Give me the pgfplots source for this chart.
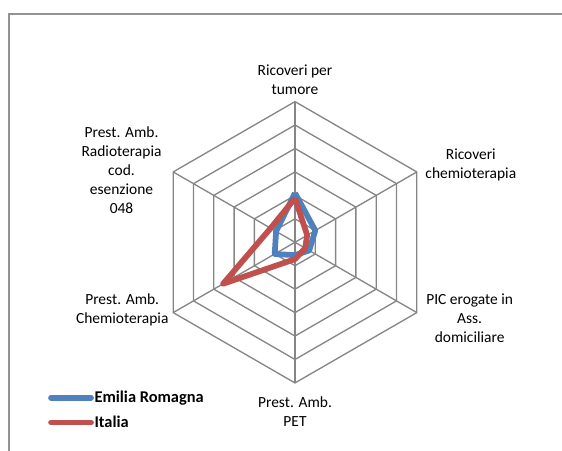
\documentclass[border=0pt]{standalone}
\usepackage{pgfplots}
\pgfplotsset{compat=1.18}
\usepackage{fontspec}
\setmainfont{Carlito}
\usepgfplotslibrary{polar}
\definecolor{erblue}{HTML}{4F81BD}
\definecolor{itred}{HTML}{C0504D}
\definecolor{gridgray}{HTML}{868686}
\begin{document}
\begin{tikzpicture}
\useasboundingbox (-221.25pt,-156.5pt) rectangle (200.25pt,181.7pt);
\draw[gridgray!90, line width=1.1pt] (-214.5pt,-160pt) -- (-214.5pt,171.2pt) -- (205pt,171.2pt);
\begin{axis}[
  at={(0pt,0pt)}, anchor=center,
  scale only axis, width=211pt, height=211pt,
  xmin=-6, xmax=6, ymin=-6, ymax=6,
  hide axis, clip=false,
  legend style={at={(axis cs:-10.54,-6.3)}, anchor=north west, draw=none, fill=none,
    font=\fontsize{12.3}{14}\selectfont\bfseries, inner sep=0pt, row sep=7.5pt,
    nodes={inner sep=0.5pt}},
  legend cell align=left,
  legend image code/.code={\draw[#1, line cap=round] (0pt,0pt) -- (30pt,0pt);},
  every axis plot/.append style={line join=round},
]
% hexagonal grid
\addplot[gridgray, line width=1pt, data cs=polar, forget plot] coordinates {(90,1) (30,1) (-30,1) (-90,1) (210,1) (150,1) (90,1)};
\addplot[gridgray, line width=1pt, data cs=polar, forget plot] coordinates {(90,2) (30,2) (-30,2) (-90,2) (210,2) (150,2) (90,2)};
\addplot[gridgray, line width=1pt, data cs=polar, forget plot] coordinates {(90,3) (30,3) (-30,3) (-90,3) (210,3) (150,3) (90,3)};
\addplot[gridgray, line width=1pt, data cs=polar, forget plot] coordinates {(90,4) (30,4) (-30,4) (-90,4) (210,4) (150,4) (90,4)};
\addplot[gridgray, line width=1pt, data cs=polar, forget plot] coordinates {(90,5) (30,5) (-30,5) (-90,5) (210,5) (150,5) (90,5)};
\addplot[gridgray, line width=1pt, data cs=polar, forget plot] coordinates {(90,6) (30,6) (-30,6) (-90,6) (210,6) (150,6) (90,6)};
% spokes
\addplot[gridgray, line width=1pt, data cs=polar, forget plot] coordinates {(90,0) (90,6)};
\addplot[gridgray, line width=1pt, data cs=polar, forget plot] coordinates {(30,0) (30,6)};
\addplot[gridgray, line width=1pt, data cs=polar, forget plot] coordinates {(-30,0) (-30,6)};
\addplot[gridgray, line width=1pt, data cs=polar, forget plot] coordinates {(-90,0) (-90,6)};
\addplot[gridgray, line width=1pt, data cs=polar, forget plot] coordinates {(210,0) (210,6)};
\addplot[gridgray, line width=1pt, data cs=polar, forget plot] coordinates {(150,0) (150,6)};
% data
\addplot[erblue, line width=4.3pt, data cs=polar] coordinates {(90,2.1) (30,1.0) (-30,0.7) (-90,0.55) (210,1.0) (150,0.93) (90,2.1)};
\addlegendentry{Emilia Romagna}
\addplot[itred, line width=4.3pt, data cs=polar] coordinates {(90,1.88) (30,0.6) (-30,0.5) (-90,0.72) (210,3.54) (150,1.2) (90,1.88)};
\addlegendentry{Italia}
% category labels
\begin{scope}[every node/.style={font=\fontsize{11.6}{14.3}\selectfont, align=center, inner sep=0pt}]
\node at (axis cs:0,6.92) {Ricoveri per\\tumore};
\node at (axis cs:7.5,3.3) {Ricoveri\\chemioterapia};
\node at (axis cs:7.45,-3.24) {PIC erogate in\\Ass.\\domiciliare};
\node at (axis cs:0,-7.21) {Prest. Amb.\\PET};
\node at (axis cs:-7.37,-2.87) {Prest. Amb.\\Chemioterapia};
\node at (axis cs:-7.4,3.09) {Prest. Amb.\\Radioterapia\\cod.\\esenzione\\048};
\end{scope}
\end{axis}
\end{tikzpicture}
\end{document}
